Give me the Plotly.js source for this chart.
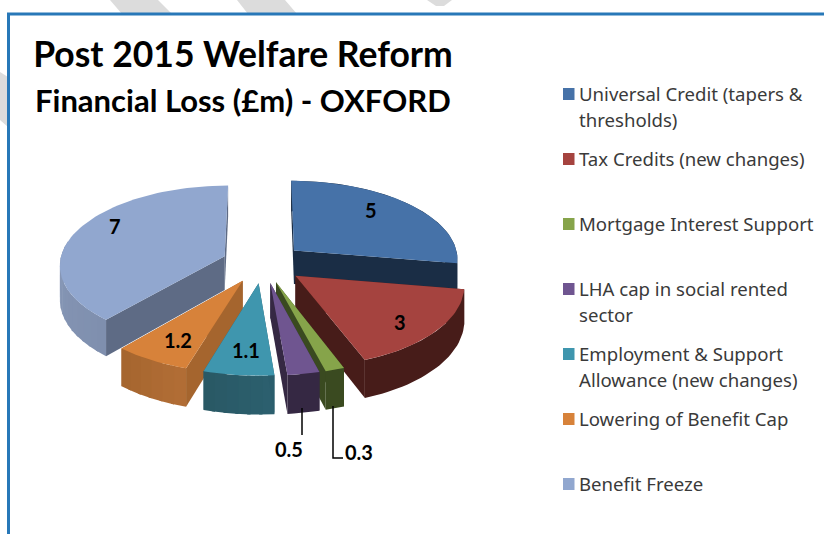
<!DOCTYPE html>
<html><head><meta charset="utf-8">
<script src="https://cdn.plot.ly/plotly-3.0.1.min.js"></script>
<style>html,body{margin:0;padding:0;background:#fff}#c{width:824px;height:534px}</style>
</head><body><div id="c"></div>
<script>
// ---- data ----
var categories = ['Universal Credit (tapers &<br>thresholds)','Tax Credits (new changes)','Mortgage Interest Support','LHA cap in social rented<br>sector','Employment & Support<br>Allowance (new changes)','Lowering of Benefit Cap','Benefit Freeze'];
var values = [5,3,0.3,0.5,1.1,1.2,7];
// ---- styles ----
var topColors  = ['#4672a8','#a5433f','#86a44a','#6f5590','#3f96ae','#d7823a','#91a7cf'];
var sideColors = ['#1a2d45','#471c19','#3a4a20','#352843','#2a5d6c','#a5652e','#5e6b85'];
var wallFrom   = ['#1a2d45','#471c19','#3a4a20','#352843','#2c606f','#b26e36','#7f8fae'];
var wallTo     = ['#1a2d45','#471c19','#3a4a20','#352843','#295864','#a5652e','#93a4c4'];
var paintOrder = [0,6,1,5,2,3,4];
var labelAnchors = [[371,210],[400,322],[359,452],[289,449],[246,350],[178,340],[115,226]];
var legendY = [94,159,224,289,354,419,484];
// ---- projection ----
var cx=263, cy=263, rx=165, ry=79, persp=0.1, pull=0.25, depth=34;
function proj(X,Y,z){var s=1/(1+persp*Y);return [cx+rx*X*s, cy-ry*Y*s+z*depth*s];}
function rad(d){return d*Math.PI/180;}
var total=values.reduce(function(a,b){return a+b;},0);
var traces=[];
function addPoly(pts,color,name){
  traces.push({type:'scatter',mode:'lines',x:pts.map(function(p){return p[0];}),y:pts.map(function(p){return p[1];}),
    fill:'toself',fillcolor:color,line:{width:0},hoverinfo:'text',text:name,showlegend:false});
}
function mix(a,b,t){function h(c,i){return parseInt(c.substr(i,2),16);}
  var o=[1,3,5].map(function(i){return Math.round(h(a,i)+(h(b,i)-h(a,i))*t);});return 'rgb('+o.join(',')+')';}
var cum=[0];values.forEach(function(v){cum.push(cum[cum.length-1]+v);});
paintOrder.forEach(function(i){
  var a0=cum[i]/total*360,a1=cum[i+1]/total*360,mid=rad((a0+a1)/2);
  var ox=pull*Math.sin(mid),oy=pull*Math.cos(mid),name=categories[i].replace('<br>',' ')+': '+values[i];
  function pt(a,r,z){return proj(ox+r*Math.sin(rad(a)),oy+r*Math.cos(rad(a)),z);}
  function arc(s,e,z){var o=[];var m=Math.max(2,Math.ceil((e-s)/2));for(var q=0;q<=m;q++)o.push(pt(s+(e-s)*q/m,1,z));return o;}
  function face(a){addPoly([pt(a,0,0),pt(a,1,0),pt(a,1,1),pt(a,0,1),pt(a,0,0)],sideColors[i],name);}
  var farFirst=Math.cos(rad(a0))>Math.cos(rad(a1));
  // far radial face, then outer wall strips (overlapping so no seams show), then near radial face, then top
  face(farFirst?a0:a1);
  var n=wallFrom[i]===wallTo[i]?1:Math.max(2,Math.ceil((a1-a0)/4));
  for(var k=0;k<n;k++){
    var b0=a0+(a1-a0)*k/n,b1=Math.min(a1,a0+(a1-a0)*(k+1)/n+1);
    if(Math.cos(rad((b0+b1)/2))>0.2&&n>1)continue;
    var poly=arc(b0,b1,0).concat(arc(b0,b1,1).reverse());poly.push(poly[0]);
    addPoly(poly,mix(wallFrom[i],wallTo[i],(k+0.5)/n),name);
  }
  face(farFirst?a1:a0);
  var top=[pt(a0,0,0)].concat(arc(a0,a1,0));top.push(pt(a0,0,0));
  addPoly(top,topColors[i],name);
});
// ---- layout ----
var shapes=[];
function stripe(pts){return {type:'path',xref:'x',yref:'y',layer:'below',line:{width:0},fillcolor:'#dcdcdc',
  path:'M'+pts.map(function(p){return p.join(',');}).join(' L')+' Z'};}
shapes.push(stripe([[110,0],[158,0],[172,14],[122,14]]));
shapes.push(stripe([[237,0],[285,0],[297,14],[248,14]]));
shapes.push(stripe([[427,0],[452,0],[444,6],[436,6]]));
shapes.push(stripe([[0,72],[8,77],[8,127],[0,120]]));
shapes.push({type:'rect',xref:'x',yref:'y',layer:'below',x0:8.5,y0:14,x1:830,y1:540,fillcolor:'#fff',line:{color:'#2878b8',width:3}});
var annotations=[];
values.forEach(function(v,i){
  var a=labelAnchors[i];
  annotations.push({xref:'x',yref:'y',x:a[0],y:a[1],text:String(v),showarrow:false,xanchor:'center',yanchor:'middle',
    font:{family:'Lato, Carlito, sans-serif',size:20,color:'#000',weight:700}});
});
categories.forEach(function(c,i){
  shapes.push({type:'rect',xref:'x',yref:'y',x0:563,x1:574.5,y0:legendY[i]-6,y1:legendY[i]+6,fillcolor:topColors[i],line:{width:0}});
  c.split('<br>').forEach(function(line,j){
    annotations.push({xref:'x',yref:'y',x:577,y:legendY[i]-1+26*j,text:line,showarrow:false,xanchor:'left',yanchor:'middle',align:'left',
      font:{family:'Noto Sans, sans-serif',size:18.6,color:'#3a3a3a'}});
  });
});
annotations.push({xref:'x',yref:'y',x:243,y:100,text:'Financial Loss (£m) - OXFORD',showarrow:false,xanchor:'center',yanchor:'middle',
  font:{family:'Lato, Carlito, sans-serif',size:31,color:'#000',weight:700}});
// leader lines
shapes.push({type:'path',xref:'x',yref:'y',line:{color:'#000',width:1.5},path:'M302,408 L302,435'});
shapes.push({type:'path',xref:'x',yref:'y',line:{color:'#000',width:1.5},path:'M333,406 L333,458 L343,458'});
var layout={width:824,height:534,margin:{l:0,r:0,t:0,b:0},paper_bgcolor:'#fff',plot_bgcolor:'rgba(0,0,0,0)',showlegend:false,
 title:{text:'Post 2015 Welfare Reform',x:243/824,xanchor:'center',y:1-42/534,yanchor:'top',
   font:{family:'Lato, Carlito, sans-serif',size:35.5,color:'#000',weight:700}},
 xaxis:{range:[0,824],visible:false,fixedrange:true},
 yaxis:{range:[534,0],visible:false,fixedrange:true},
 shapes:shapes,annotations:annotations};
Plotly.newPlot('c',traces,layout,{displayModeBar:false,staticPlot:true});
</script></body></html>
